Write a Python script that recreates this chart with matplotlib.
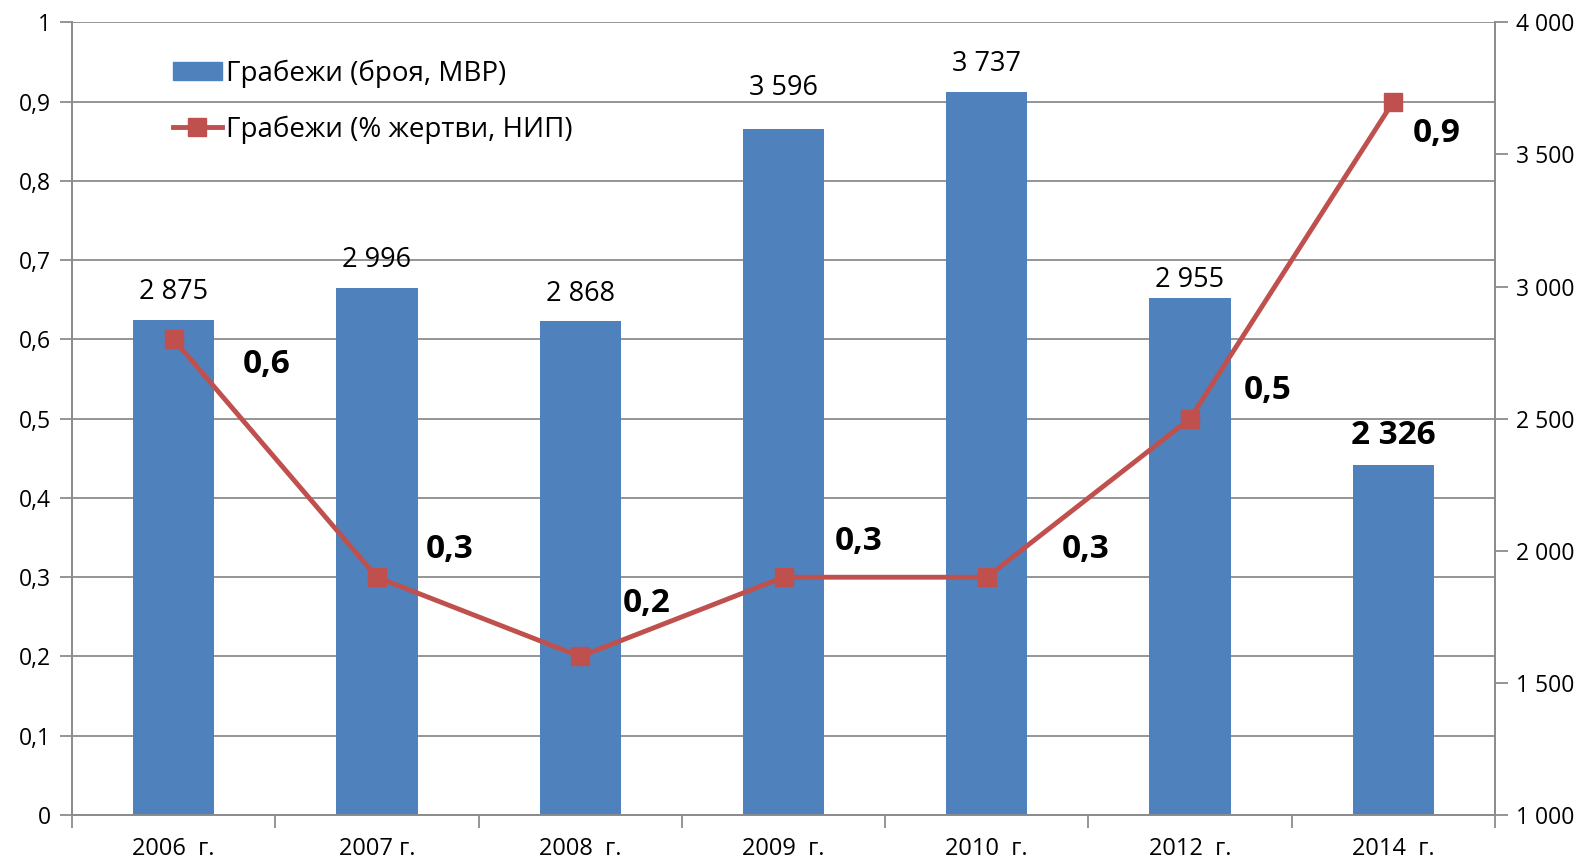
import matplotlib
matplotlib.use("Agg")
import matplotlib.pyplot as plt
from matplotlib.ticker import FuncFormatter, FixedLocator
from matplotlib.patches import Patch
from matplotlib.lines import Line2D

plt.rcParams['font.family'] = ['Open Sans', 'DejaVu Sans']

categories = ["2006  г.", "2007 г.", "2008  г.", "2009  г.", "2010  г.", "2012  г.", "2014  г."]
robbery_counts = [2875, 2996, 2868, 3596, 3737, 2955, 2326]
victim_pct = [0.6, 0.3, 0.2, 0.3, 0.3, 0.5, 0.9]
bar_name = "Грабежи (броя, МВР)"
line_name = "Грабежи (% жертви, НИП)"

# label offsets in points (style)
line_label_offsets = [(67, -18), (52, 20), (48, 38), (54, 26), (71, 20), (56, 20), (31, -23)]
bar_label_offsets = [10, 10, 10, 19.5, 10, 3.5, 9]

BLUE = "#4F81BD"
RED = "#C0504D"
GRID = "#8C8C8C"

def fmt_num(v):
    return f"{int(round(v)):,}".replace(",", " ")

fig = plt.figure(figsize=(15.87, 8.60), dpi=100)
ax = fig.add_axes([0.0454, 0.0523, 0.8966, 0.9217])
ax2 = ax.twinx()

x = list(range(len(categories)))

ax.set_ylim(0, 1)
ax.set_xlim(-0.5, len(categories) - 0.5)
ax.yaxis.set_major_locator(FixedLocator([i / 10 for i in range(11)]))
ax.yaxis.set_major_formatter(FuncFormatter(lambda v, p: ("%g" % round(v, 1)).replace(".", ",")))
ax.yaxis.grid(True, color=GRID, linewidth=1.3)
ax.set_axisbelow(True)

ax2.set_ylim(1000, 4000)
ax2.yaxis.set_major_locator(FixedLocator(list(range(1000, 4001, 500))))
ax2.yaxis.set_major_formatter(FuncFormatter(lambda v, p: fmt_num(v)))

ax2.bar(x, [v - 1000 for v in robbery_counts], bottom=1000, width=0.4, color=BLUE, zorder=2)
for i, v in enumerate(robbery_counts):
    last = (i == len(robbery_counts) - 1)
    ax2.annotate(fmt_num(v), (x[i], v), xytext=(0, bar_label_offsets[i]), textcoords="offset points",
                 ha="center", va="bottom", fontsize=24 if last else 19.5,
                 fontweight="bold" if last else "normal", color="black")

ax3 = fig.add_axes(ax.get_position(), sharex=ax)
ax3.set_ylim(0, 1)
ax3.patch.set_visible(False)
ax3.axis("off")
ax3.plot(x, victim_pct, color=RED, linewidth=3.5, marker="s", markersize=13,
         markerfacecolor=RED, markeredgecolor=RED, zorder=5)
for i, v in enumerate(victim_pct):
    dx, dy = line_label_offsets[i]
    ax3.annotate(("%g" % v).replace(".", ","), (x[i], v), xytext=(dx, dy), textcoords="offset points",
                 ha="center", va="center", fontsize=24, fontweight="bold", color="black")

handles = [Patch(facecolor=BLUE, edgecolor=BLUE, label=bar_name),
           Line2D([0], [0], color=RED, linewidth=3.5, marker="s", markersize=13, label=line_name)]
ax3.legend(handles=handles, loc="upper left", bbox_to_anchor=(0.0535, 0.985), frameon=False,
           fontsize=20, handlelength=1.75, handletextpad=0.15, labelspacing=1.0,
           handleheight=0.65)

ax.set_xticks([i + 0.5 for i in range(-1, len(categories))], minor=False)
ax.set_xticklabels([])
ax.set_xticks(x, minor=True)
ax.set_xticklabels(categories, minor=True, fontsize=17,
                   fontfamily=['Liberation Sans Narrow', 'Open Sans', 'DejaVu Sans'])
ax.tick_params(axis="x", which="major", length=9, width=1.3, color=GRID)
ax.tick_params(axis="x", which="minor", length=0, pad=16)
ax.tick_params(axis="y", length=9, width=1.3, color=GRID, labelsize=16.5, pad=6)
ax2.tick_params(axis="y", length=9, width=1.3, color=GRID, labelsize=16.5, pad=6)

for a in (ax, ax2):
    for s in a.spines.values():
        s.set_color(GRID)
        s.set_linewidth(1.3)
ax.spines["top"].set_visible(False)
ax2.spines["top"].set_visible(False)

fig.savefig("out.png", dpi=100)
